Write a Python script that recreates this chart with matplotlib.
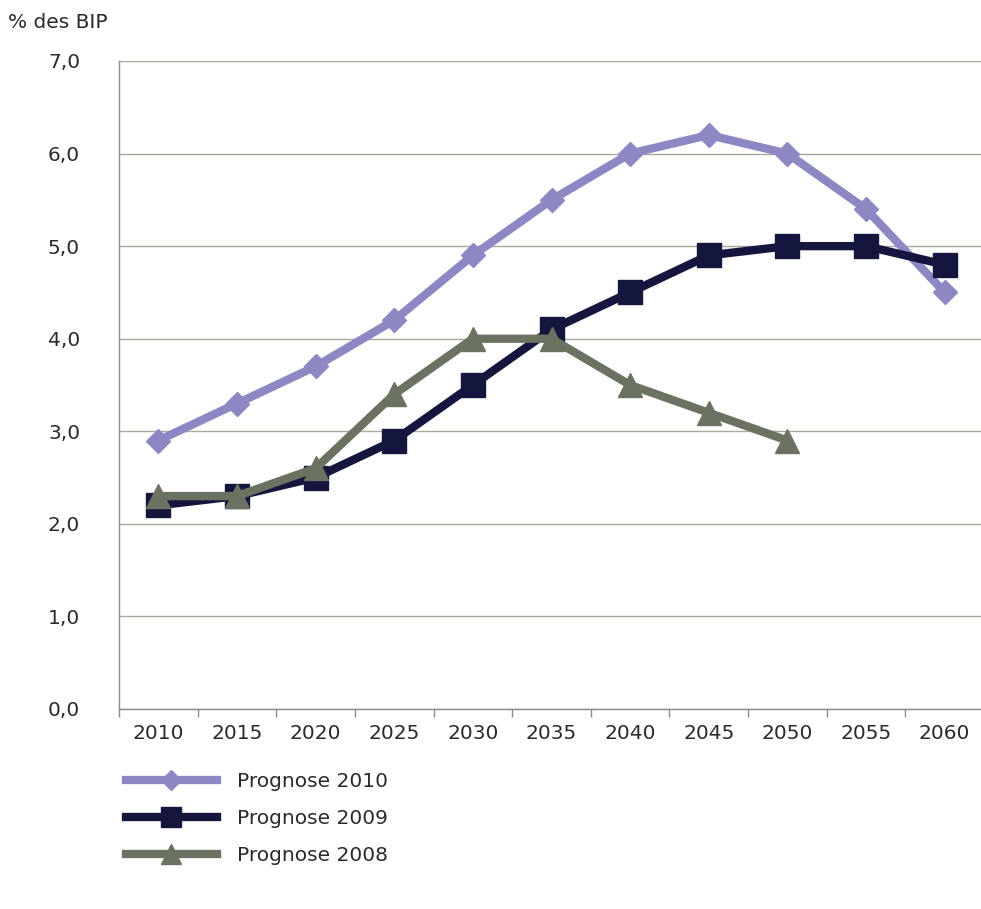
import numpy as np
import matplotlib.pyplot as plt
from matplotlib.ticker import FuncFormatter, FixedLocator

years = ['2010', '2015', '2020', '2025', '2030', '2035', '2040', '2045', '2050', '2055', '2060']
prognose_2010 = [2.9, 3.3, 3.7, 4.2, 4.9, 5.5, 6.0, 6.2, 6.0, 5.4, 4.5]
prognose_2009 = [2.2, 2.3, 2.5, 2.9, 3.5, 4.1, 4.5, 4.9, 5.0, 5.0, 4.8]
prognose_2008 = [2.3, 2.3, 2.6, 3.4, 4.0, 4.0, 3.5, 3.2, 2.9]

plt.rcParams['font.family'] = 'DejaVu Sans'
text_color = '#2b2b2b'
fs = 14.5

fig = plt.figure(figsize=(9.81, 9.09), dpi=100)
ax = fig.add_axes([119 / 981, 1 - 709 / 909, 865 / 981, (709 - 61) / 909])

x = np.arange(len(years))
ax.plot(x, prognose_2010, color='#8d88c4', lw=6, marker='D', markersize=12.5,
        label='Prognose 2010', zorder=3)
ax.plot(x, prognose_2009, color='#15163d', lw=6, marker='s', markersize=17,
        label='Prognose 2009', zorder=4)
ax.plot(x[:len(prognose_2008)], prognose_2008, color='#6c7262', lw=6, marker='^',
        markersize=17, label='Prognose 2008', zorder=5)

ax.set_xlim(-0.5, len(years) - 0.5)
ax.set_ylim(0, 7)
ax.set_yticks(np.arange(0, 8, 1))
ax.yaxis.set_major_formatter(FuncFormatter(lambda v, p: f'{v:.1f}'.replace('.', ',')))
ax.set_xticks(x)
ax.set_xticklabels(years)
ax.xaxis.set_minor_locator(FixedLocator(np.arange(-0.5, len(years), 1)))

ax.grid(axis='y', color='#a8a99c', lw=1.0)
ax.set_axisbelow(True)
for side in ['top', 'right']:
    ax.spines[side].set_visible(False)
for side in ['left', 'bottom']:
    ax.spines[side].set_color('#8c8c8c')
    ax.spines[side].set_linewidth(1.0)

ax.tick_params(axis='y', length=0, pad=28, labelsize=fs, labelcolor=text_color)
ax.tick_params(axis='x', which='major', length=0, pad=11, labelsize=fs, labelcolor=text_color)
ax.tick_params(axis='x', which='minor', length=6, color='#8c8c8c', width=1.0)

fig.text(8 / 981, 1 - 22 / 909, '% des BIP', fontsize=fs, color=text_color, va='center', ha='left')

ax.legend(loc='upper left', bbox_to_anchor=(108 / 981, 1 - 754 / 909),
          bbox_transform=fig.transFigure, frameon=False, fontsize=fs,
          handlelength=4.5, handletextpad=1.0, labelspacing=0.9, markerscale=0.85,
          labelcolor=text_color)

fig.savefig('out.png', dpi=100, facecolor='white')
